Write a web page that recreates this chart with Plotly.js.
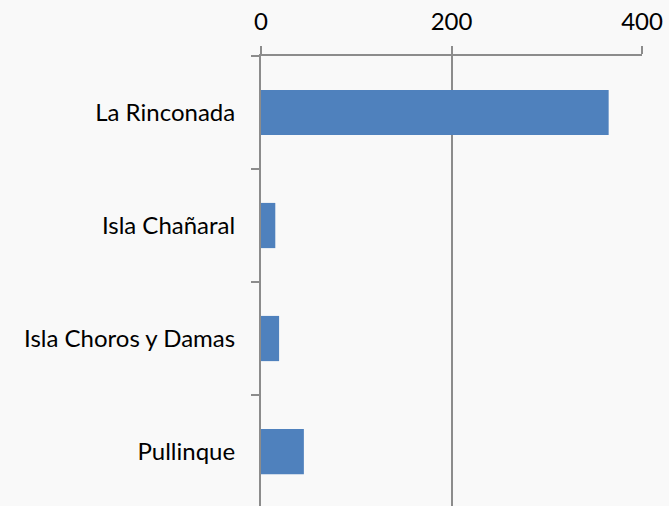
<!DOCTYPE html>
<html>
<head>
<meta charset="utf-8">
<script src="https://cdn.plot.ly/plotly-3.0.1.min.js"></script>
<style>
html,body{margin:0;padding:0;background:#f9f9f9;overflow:hidden;}
#chart{width:669px;height:506px;}
</style>
</head>
<body>
<div id="chart"></div>
<script>
var categories = ["La Rinconada", "Isla Chañaral", "Isla Choros y Damas", "Pullinque"];
var values = [365, 15, 19, 45];
var xTicks = [0, 200, 400];

var gridColor = "#8c8c8c";
var trace = {
  type: "bar",
  orientation: "h",
  y: categories,
  x: values,
  marker: {color: "#4f81bd"},
  hoverinfo: "x+y"
};

var layout = {
  width: 669,
  height: 506,
  paper_bgcolor: "#f9f9f9",
  plot_bgcolor: "#f9f9f9",
  margin: {l: 261, r: 27, t: 56, b: 0, pad: 0},
  bargap: 0.6,
  showlegend: false,
  font: {family: "Lato, 'Open Sans', sans-serif", size: 24, color: "#000000"},
  xaxis: {
    side: "top",
    range: [0, 400],
    tickvals: xTicks,
    ticktext: xTicks.map(String),
    showgrid: true,
    gridcolor: gridColor,
    gridwidth: 2,
    zeroline: false,
    showline: true,
    linecolor: gridColor,
    linewidth: 2,
    ticks: "outside",
    ticklen: 8,
    tickwidth: 2,
    tickcolor: gridColor,
    ticklabelstandoff: 6,
    tickfont: {size: 24, color: "#000000"},
    fixedrange: true
  },
  yaxis: {
    type: "category",
    range: [3.482, -0.5],
    showgrid: false,
    zeroline: false,
    showline: true,
    linecolor: gridColor,
    linewidth: 2,
    ticks: "outside",
    tickson: "boundaries",
    ticklen: 8,
    tickwidth: 2,
    tickcolor: gridColor,
    ticklabelstandoff: 19,
    tickfont: {size: 24, color: "#000000"},
    fixedrange: true
  }
};

Plotly.newPlot("chart", [trace], layout, {displayModeBar: false, staticPlot: true});
</script>
</body>
</html>
